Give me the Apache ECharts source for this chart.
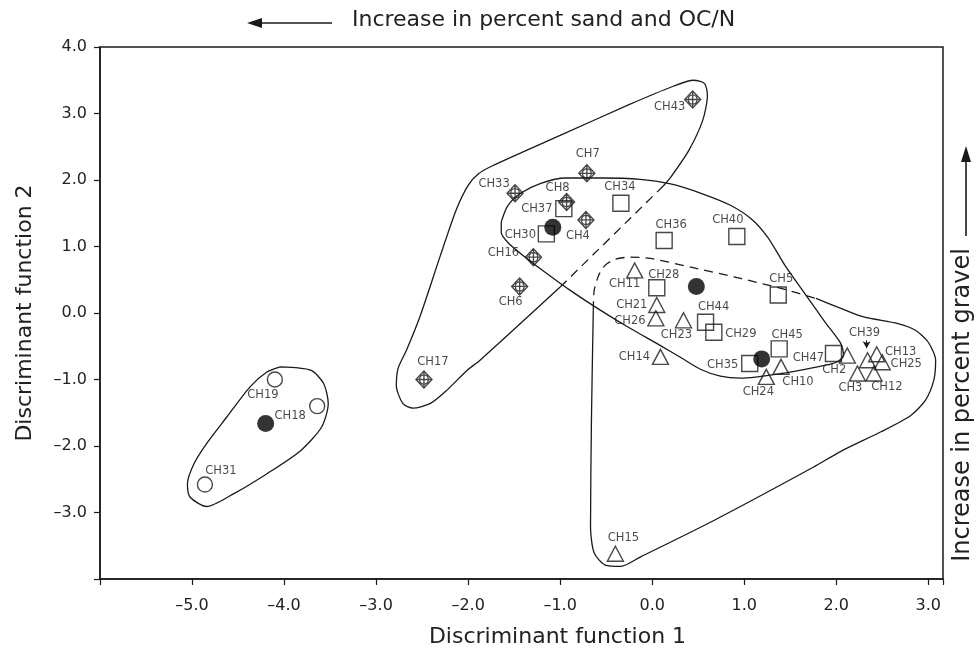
<!DOCTYPE html>
<html>
<head>
<meta charset="utf-8">
<script src="https://cdn.jsdelivr.net/npm/echarts@6/dist/echarts.min.js"></script>
<style>
  html, body { margin: 0; background: #fff; }
  #chart { width: 980px; height: 652px; }
</style>
</head>
<body>
<div id="chart"></div>
<script>
// tick labels that are printed (others stay blank)
const xTickLabels = [-5, -4, -3, -2, -1, 0, 1, 2, 3];
const yTickLabels = [-3, -2, -1, 0, 1, 2, 3, 4];

// stations: [name, DF1, DF2]
const groupIII = [
  ["CH43", 0.44, 3.21], ["CH7", -0.71, 2.10], ["CH33", -1.49, 1.80], ["CH8", -0.93, 1.67],
  ["CH4", -0.72, 1.40], ["CH16", -1.29, 0.84], ["CH6", -1.44, 0.40], ["CH17", -2.48, -1.00]
];
const groupI = [
  ["CH34", -0.34, 1.65], ["CH37", -0.96, 1.57], ["CH30", -1.15, 1.19], ["CH36", 0.13, 1.09],
  ["CH40", 0.92, 1.15], ["CH28", 0.05, 0.38], ["CH5", 1.37, 0.27], ["CH44", 0.58, -0.14],
  ["CH29", 0.67, -0.29], ["CH45", 1.38, -0.54], ["CH35", 1.06, -0.76], ["CH47", 1.97, -0.61]
];
const groupII = [
  ["CH11", -0.19, 0.64], ["CH21", 0.05, 0.12], ["CH26", 0.04, -0.08], ["CH23", 0.34, -0.11],
  ["CH14", 0.09, -0.66], ["CH10", 1.40, -0.81], ["CH24", 1.24, -0.96], ["CH2", 2.12, -0.64],
  ["CH3", 2.23, -0.91], ["CH39", 2.34, -0.71], ["CH13", 2.44, -0.62], ["CH25", 2.50, -0.74],
  ["CH12", 2.41, -0.91], ["CH15", -0.40, -3.62]
];
const groupIV = [["CH19", -4.10, -1.00], ["CH18", -3.64, -1.40], ["CH31", -4.86, -2.58]];
const centroids = [[-1.08, 1.29], [0.48, 0.40], [1.19, -0.69], [-4.20, -1.66]];

const regionLabels = [["I", 0.52, 1.52], ["II", 0.65, -1.91], ["III", -0.01, 2.60], ["IV", -4.60, -2.01]];

// group boundaries, in DF1/DF2 units
const regionI = [
  [-1.64, 1.37], [-1.57, 1.61], [-1.43, 1.80], [-1.21, 1.95], [-0.94, 2.03], [-0.56, 2.03],
  [-0.13, 2.01], [0.20, 1.94], [0.53, 1.80], [0.85, 1.62], [1.09, 1.40], [1.26, 1.13],
  [1.45, 0.70], [1.67, 0.27], [1.88, -0.14], [2.05, -0.46], [2.08, -0.64], [2.00, -0.74],
  [1.86, -0.79], [1.40, -0.91], [0.96, -0.98], [0.74, -0.95], [0.53, -0.85], [0.31, -0.67],
  [0.09, -0.49], [-0.24, -0.23], [-0.56, 0.04], [-0.89, 0.34], [-1.16, 0.61], [-1.38, 0.84],
  [-1.56, 1.05], [-1.64, 1.21], [-1.64, 1.37]
];
const regionIIISolid = [
  [0.12, 1.91], [0.20, 2.04], [0.40, 2.45], [0.55, 2.90], [0.60, 3.27], [0.57, 3.45],
  [0.45, 3.50], [0.23, 3.41], [-0.24, 3.14], [-1.00, 2.67], [-1.74, 2.21], [-1.89, 2.09],
  [-2.00, 1.92], [-2.13, 1.55], [-2.30, 0.87], [-2.52, -0.04], [-2.67, -0.56], [-2.76, -0.83],
  [-2.78, -1.09], [-2.71, -1.36], [-2.60, -1.43], [-2.41, -1.36], [-2.23, -1.16], [-2.01, -0.86],
  [-1.87, -0.71], [-1.00, 0.39]
];
const regionIIIDashed = [[0.12, 1.91], [-1.00, 0.39]];
const regionIISolid = [
  [1.78, 0.22], [2.05, 0.07], [2.30, -0.06], [2.67, -0.16], [2.86, -0.26], [3.00, -0.44],
  [3.08, -0.71], [3.06, -1.01], [2.97, -1.31], [2.81, -1.54], [2.48, -1.79], [2.05, -2.08],
  [1.75, -2.32], [0.67, -3.12], [-0.13, -3.67], [-0.34, -3.81], [-0.51, -3.79], [-0.63, -3.61],
  [-0.67, -3.22], [-0.66, -1.61], [-0.64, 0.04]
];
const regionIIDashed = [
  [-0.64, 0.04], [-0.63, 0.34], [-0.58, 0.57], [-0.51, 0.72], [-0.40, 0.81], [-0.24, 0.84],
  [-0.02, 0.82], [0.42, 0.69], [0.96, 0.52], [1.40, 0.37], [1.78, 0.22]
];
const regionIV = [
  [-4.04, -0.81], [-3.71, -0.86], [-3.57, -1.06], [-3.52, -1.36], [-3.59, -1.71], [-3.82, -2.07],
  [-4.19, -2.42], [-4.55, -2.72], [-4.84, -2.91], [-5.02, -2.77], [-5.05, -2.57], [-4.98, -2.27],
  [-4.84, -1.96], [-4.62, -1.56], [-4.37, -1.11], [-4.19, -0.89], [-4.04, -0.81]
];
const ch39Arrow = [[2.33, -0.41], [2.33, -0.53]];

// label placement relative to the marker centre (px)
const labelOffset = {
  CH43: [-23, 7], CH7: [1, -19], CH33: [-21, -9], CH8: [-9, -14], CH4: [-8, 16], CH16: [-30, -4],
  CH6: [-9, 16], CH17: [9, -17],
  CH34: [-1, -16], CH37: [-27, 0], CH30: [-26, 1], CH36: [7, -15], CH40: [-9, -17], CH28: [7, -13],
  CH5: [3, -16], CH44: [8, -15], CH29: [27, 2], CH45: [8, -14], CH35: [-27, 1], CH47: [-25, 4],
  CH11: [-10, 14], CH21: [-25, 0], CH26: [-26, 3], CH23: [-7, 15], CH14: [-26, 0], CH10: [17, 15],
  CH24: [-8, 15], CH2: [-13, 14], CH3: [-7, 15], CH39: [-3, -27], CH13: [24, -2], CH25: [24, 2],
  CH12: [13, 14], CH15: [8, -16],
  CH19: [-12, 16], CH18: [-27, 10], CH31: [16, -14]
};

const FONT = "DejaVu Sans";
const INK = "#1a1a1a";
const diamondCross =
  "path://M10,0 L20,10 L10,20 L0,10 Z M15.5,10 A5.5,5.5 0 1 1 4.5,10 A5.5,5.5 0 1 1 15.5,10 Z M0,10 L20,10 M10,0 L10,20";

function tickFormatter(list) {
  return (v) => {
    const r = Math.round(v);
    if (Math.abs(v - r) > 1e-6 || !list.includes(r)) return "";
    return (r < 0 ? "\u2013" : "") + Math.abs(r).toFixed(1);
  };
}

function stations(rows, symbol, size) {
  return {
    type: "scatter",
    symbol,
    symbolSize: size,
    z: 5,
    silent: true,
    itemStyle: { color: "rgba(0,0,0,0)", borderColor: INK, borderWidth: 1.4 },
    label: {
      show: true,
      position: "inside",
      formatter: (p) => p.name,
      color: INK,
      fontFamily: FONT,
      fontSize: 11.5,
    },
    data: rows.map((r) => ({
      name: r[0],
      value: [r[1], r[2]],
      label: { offset: labelOffset[r[0]] || [0, -14] },
    })),
  };
}

function outline(data, dashed) {
  return {
    type: "line",
    data,
    smooth: 0.25,
    showSymbol: false,
    symbol: "none",
    silent: true,
    z: 2,
    lineStyle: { color: INK, width: 1.3, type: dashed ? [9, 6] : "solid" },
  };
}

const chart = echarts.init(document.getElementById("chart"));

const axisLine = { show: true, onZero: false, lineStyle: { color: INK, width: 1.5 } };
const axisTick = { show: true, length: 6, lineStyle: { color: INK, width: 1.2 } };

const triSeries = stations(groupII, "triangle", [16, 15]);
triSeries.markLine = {
  silent: true,
  symbol: ["none", "arrow"],
  symbolSize: [6, 7],
  label: { show: false },
  lineStyle: { color: INK, width: 1, type: "solid" },
  data: [[{ coord: ch39Arrow[0] }, { coord: ch39Arrow[1] }]],
};

chart.setOption({
  animation: false,
  backgroundColor: "#fff",
  grid: {
    left: 100, right: 37, top: 47, bottom: 73,
    show: true, borderColor: INK, borderWidth: 1.5,
    outerBoundsMode: "none",
  },
  xAxis: {
    type: "value",
    min: -6,
    max: 3.16,
    interval: 1,
    axisLine,
    axisTick,
    splitLine: { show: false },
    axisLabel: {
      formatter: tickFormatter(xTickLabels),
      margin: 19,
      color: "#222",
      fontFamily: FONT,
      fontSize: 16,
    },
    name: "Discriminant function 1",
    nameLocation: "middle",
    nameGap: 47,
    nameTextStyle: { color: "#222", fontFamily: FONT, fontSize: 22, padding: [0, 0, 0, 72] },
  },
  yAxis: {
    type: "value",
    min: -4,
    max: 4,
    interval: 1,
    axisLine,
    axisTick,
    splitLine: { show: false },
    axisLabel: {
      formatter: tickFormatter(yTickLabels),
      margin: 13,
      color: "#222",
      fontFamily: FONT,
      fontSize: 16,
    },
    name: "Discriminant function 2",
    nameLocation: "middle",
    nameGap: 64,
    nameTextStyle: { color: "#222", fontFamily: FONT, fontSize: 22 },
  },
  graphic: [
    {
      type: "text",
      left: 352,
      top: 9,
      style: { text: "Increase in percent sand and OC/N", fill: "#222", font: "22px 'DejaVu Sans'" },
    },
    { type: "line", shape: { x1: 256, y1: 23, x2: 332, y2: 23 }, style: { stroke: INK, lineWidth: 1.6 } },
    { type: "polygon", shape: { points: [[247, 23], [262, 18], [262, 28]] }, style: { fill: INK } },
    {
      type: "text",
      x: 963,
      y: 405,
      rotation: Math.PI / 2,
      style: {
        text: "Increase in percent gravel",
        fill: "#222",
        font: "24px 'DejaVu Sans'",
        align: "center",
        verticalAlign: "middle",
      },
    },
    { type: "line", shape: { x1: 966, y1: 236, x2: 966, y2: 160 }, style: { stroke: INK, lineWidth: 1.6 } },
    { type: "polygon", shape: { points: [[966, 146], [961, 162], [971, 162]] }, style: { fill: INK } },
  ],
  series: [
    outline(regionI, false),
    outline(regionIIISolid, false),
    outline(regionIIIDashed, true),
    outline(regionIISolid, false),
    outline(regionIIDashed, true),
    outline(regionIV, false),
    stations(groupIII, diamondCross, [16, 17]),
    stations(groupI, "rect", 16),
    triSeries,
    stations(groupIV, "circle", 15),
    {
      type: "scatter",
      symbol: "circle",
      symbolSize: 17,
      z: 6,
      silent: true,
      itemStyle: { color: "#000" },
      data: centroids,
    },
    {
      type: "scatter",
      symbol: "none",
      silent: true,
      z: 4,
      label: {
        show: true,
        position: "inside",
        formatter: (p) => p.name,
        color: "#333",
        fontFamily: "Liberation Serif",
        fontSize: 26,
      },
      data: regionLabels.map((r) => ({ name: r[0], value: [r[1], r[2]] })),
    },
  ],
});
</script>
</body>
</html>
